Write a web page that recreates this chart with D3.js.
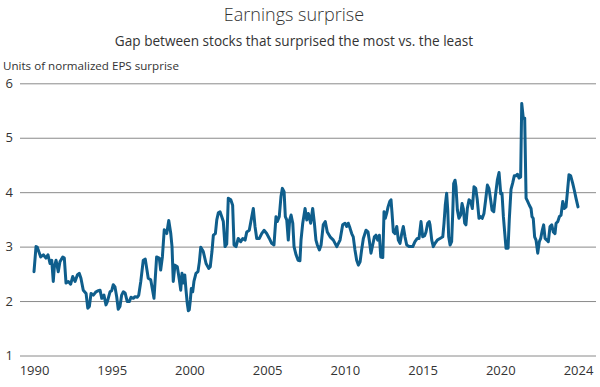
<!DOCTYPE html>
<html>
<head>
<meta charset="utf-8">
<script src="https://cdn.jsdelivr.net/npm/d3@7"></script>
<style>
  html, body { margin: 0; padding: 0; background: #fff; }
  svg { display: block; font-family: "Open Sans", Lato, sans-serif; }
</style>
</head>
<body>
<svg id="chart" width="600" height="387"></svg>
<script>
// ---- Data ----
const years = [
1990.00,1990.13,1990.21,1990.43,1990.60,1990.77,1990.90,1991.03,1991.14,1991.24,1991.31,1991.42,1991.56,1991.67,1991.85,1991.95,
1992.06,1992.21,1992.36,1992.49,1992.64,1992.79,1992.91,1993.02,1993.17,1993.35,1993.46,1993.56,1993.67,1993.82,1993.99,
1994.14,1994.25,1994.36,1994.50,1994.63,1994.72,1994.89,1995.00,1995.10,1995.21,1995.32,1995.42,1995.53,1995.64,1995.75,1995.86,
1996.00,1996.13,1996.24,1996.39,1996.50,1996.65,1996.74,1996.87,1997.03,1997.16,1997.35,1997.51,1997.72,1997.89,
1998.06,1998.15,1998.26,1998.38,1998.54,1998.67,1998.80,1998.88,1998.96,1999.07,1999.22,1999.35,1999.44,1999.52,1999.61,1999.70,1999.78,1999.86,1999.93,1999.99,
2000.06,2000.12,2000.21,2000.29,2000.42,2000.55,2000.64,2000.73,2000.89,2001.07,2001.24,2001.34,2001.45,2001.54,2001.67,2001.76,2001.86,2001.97,
2002.08,2002.18,2002.29,2002.40,2002.50,2002.66,2002.78,2002.87,2003.00,2003.14,2003.30,2003.43,2003.58,2003.69,2003.85,
2004.01,2004.11,2004.22,2004.33,2004.50,2004.65,2004.80,2004.97,2005.14,2005.29,2005.44,2005.57,2005.65,2005.78,2005.89,2005.98,
2006.09,2006.17,2006.26,2006.36,2006.45,2006.54,2006.65,2006.73,2006.86,2006.99,2007.11,2007.18,2007.29,2007.44,2007.55,2007.65,2007.80,2007.93,
2008.04,2008.14,2008.23,2008.36,2008.47,2008.61,2008.74,2008.87,2009.05,2009.26,2009.48,2009.69,2009.86,
2010.01,2010.12,2010.22,2010.33,2010.44,2010.54,2010.65,2010.76,2010.87,2010.98,2011.08,2011.19,2011.36,2011.49,2011.57,2011.68,2011.79,2011.90,
2012.00,2012.11,2012.22,2012.31,2012.44,2012.52,2012.60,2012.69,2012.78,2012.89,2012.97,2013.03,2013.12,2013.23,2013.34,2013.44,2013.55,2013.66,2013.76,2013.87,2013.98,
2014.15,2014.37,2014.51,2014.66,2014.77,2014.90,2015.01,2015.13,2015.22,2015.33,2015.43,2015.48,2015.59,2015.69,2015.80,2015.95,
2016.12,2016.30,2016.38,2016.46,2016.55,2016.62,2016.68,2016.77,2016.87,2016.94,2017.00,2017.09,2017.15,2017.24,2017.34,2017.45,2017.54,2017.62,2017.71,2017.79,2017.88,2017.99,
2018.10,2018.20,2018.31,2018.42,2018.52,2018.63,2018.74,2018.84,2018.95,2019.06,2019.17,2019.27,2019.38,2019.47,2019.58,2019.68,2019.81,2019.92,
2020.03,2020.11,2020.20,2020.29,2020.37,2020.50,2020.58,2020.69,2020.80,2020.90,2021.01,2021.10,2021.21,2021.31,2021.38,2021.48,2021.57,2021.66,2021.76,2021.87,2021.98,
2022.04,2022.12,2022.21,2022.30,2022.41,2022.51,2022.60,2022.70,2022.79,2022.88,2022.99,2023.09,2023.20,2023.31,2023.41,2023.52,2023.59,2023.70,2023.80,2023.91,
2024.02,2024.12,2024.23,2024.34,2024.42,2024.53,2024.66,2024.76,2024.87,2025.00
];
const surprise = [
2.54,3.00,2.99,2.81,2.85,2.79,2.85,2.69,2.75,2.36,2.63,2.75,2.54,2.72,2.81,2.79,
2.33,2.36,2.31,2.45,2.36,2.48,2.51,2.42,2.20,2.14,1.87,1.90,2.14,2.11,2.17,
2.19,2.20,2.05,2.11,1.93,1.99,2.17,2.19,2.30,2.26,2.08,1.85,1.90,2.11,2.17,2.15,
1.99,1.99,2.07,2.05,2.08,2.07,2.11,2.36,2.75,2.77,2.42,2.39,2.05,2.81,
2.79,2.57,2.81,3.31,3.24,3.48,3.24,3.00,2.36,2.66,2.63,2.39,2.20,2.51,2.33,2.48,2.20,1.96,1.82,1.84,
2.02,2.23,2.17,2.36,2.51,2.54,2.72,2.99,2.91,2.69,2.60,2.63,2.91,3.21,3.24,3.49,3.62,3.64,
3.55,3.46,3.00,3.05,3.89,3.86,3.76,3.03,3.00,3.15,3.09,3.15,3.12,3.27,3.30,
3.55,3.70,3.37,3.15,3.15,3.24,3.30,3.24,3.15,3.06,3.03,3.55,3.46,3.55,3.92,4.07,
4.01,3.55,3.49,3.12,3.49,3.58,3.43,3.00,2.85,2.75,2.74,3.12,3.43,3.70,3.49,3.61,3.43,3.70,
3.43,3.12,3.03,2.94,3.03,3.40,3.46,3.27,3.18,3.12,3.00,3.12,3.40,
3.43,3.37,3.43,3.34,3.24,3.18,2.94,2.75,2.66,2.72,2.94,3.15,3.30,3.27,3.12,2.88,3.03,3.18,
3.21,3.12,3.21,2.81,2.80,3.64,3.52,3.61,3.73,3.83,3.86,3.64,3.27,3.24,3.37,3.12,3.06,3.24,3.37,3.18,3.03,
3.00,3.00,3.09,3.15,3.15,3.46,3.18,3.20,3.27,3.43,3.46,3.40,3.12,3.00,3.06,3.12,
3.15,3.18,3.43,3.76,3.98,3.67,3.18,3.03,3.09,3.61,4.16,4.22,4.10,3.67,3.52,3.58,3.79,3.70,3.43,3.40,3.70,3.86,
3.83,3.70,4.10,4.07,3.86,3.52,3.55,3.52,3.61,3.86,4.13,4.07,3.86,3.67,3.64,3.92,4.22,4.36,
3.97,3.98,3.55,3.24,2.97,2.97,3.50,4.05,4.17,4.30,4.30,4.33,4.26,4.28,5.63,5.36,5.36,3.89,3.83,3.76,3.70,
3.55,3.52,3.18,3.12,2.88,3.09,3.15,3.30,3.40,3.15,3.12,3.09,3.37,3.40,3.27,3.24,3.43,3.46,3.55,3.58,
3.83,3.70,3.73,4.07,4.32,4.30,4.16,4.04,3.89,3.73
];
const yTicks = [1, 2, 3, 4, 5, 6];
const xTickYears = [1990, 1995, 2000, 2005, 2010, 2015, 2020, 2025];
const xTickLabels = ["1990", "1995", "2000", "2005", "2010", "2015", "2020", "2024"];
const title = "Earnings surprise";
const subtitle = "Gap between stocks that surprised the most vs. the least";
const yAxisTitle = "Units of normalized EPS surprise";

// ---- Drawing ----
const svg = d3.select("#chart");
const textColor = "#333333";
const gridColor = "#8a8a8a";
const lineColor = "#0f5e8c";

const x = d3.scaleLinear().domain([1990, 2025]).range([34, 578]);
const y = d3.scaleLinear().domain([1, 6]).range([355.5, 83.3]);

svg.append("text")
  .attr("x", 294).attr("y", 21)
  .attr("text-anchor", "middle")
  .attr("font-size", 18).attr("font-weight", 300)
  .attr("fill", textColor)
  .text(title);

svg.append("text")
  .attr("x", 294).attr("y", 46)
  .attr("text-anchor", "middle")
  .attr("font-size", 13.6)
  .attr("fill", textColor)
  .text(subtitle);

svg.append("text")
  .attr("x", 3).attr("y", 70)
  .attr("font-size", 11.6)
  .attr("fill", textColor)
  .text(yAxisTitle);

// y axis with gridlines
const yAxis = d3.axisLeft(y)
  .tickValues(yTicks)
  .tickSize(-576)
  .tickPadding(7)
  .tickFormat(d3.format("d"));

const gy = svg.append("g")
  .attr("transform", "translate(20,0)")
  .call(yAxis);
gy.select(".domain").remove();
gy.selectAll(".tick line").attr("stroke", gridColor).attr("stroke-width", 1);
gy.selectAll(".tick text")
  .attr("fill", textColor)
  .attr("font-size", 13)
  .attr("font-family", "'Open Sans', Lato, sans-serif");

// x axis labels
const xAxis = d3.axisBottom(x)
  .tickValues(xTickYears)
  .tickSize(0)
  .tickPadding(0)
  .tickFormat((d, i) => xTickLabels[i]);

const gx = svg.append("g")
  .attr("transform", "translate(0,366)")
  .call(xAxis);
gx.select(".domain").remove();
gx.selectAll(".tick text")
  .attr("fill", textColor)
  .attr("font-size", 13)
  .attr("font-family", "'Open Sans', Lato, sans-serif");

// line
const data = years.map((t, i) => ({ t, v: surprise[i] }));
const line = d3.line().x(d => x(d.t)).y(d => y(d.v));

svg.append("path")
  .datum(data)
  .attr("d", line)
  .attr("fill", "none")
  .attr("stroke", lineColor)
  .attr("stroke-width", 3)
  .attr("stroke-linejoin", "round")
  .attr("stroke-linecap", "round");
</script>
</body>
</html>
